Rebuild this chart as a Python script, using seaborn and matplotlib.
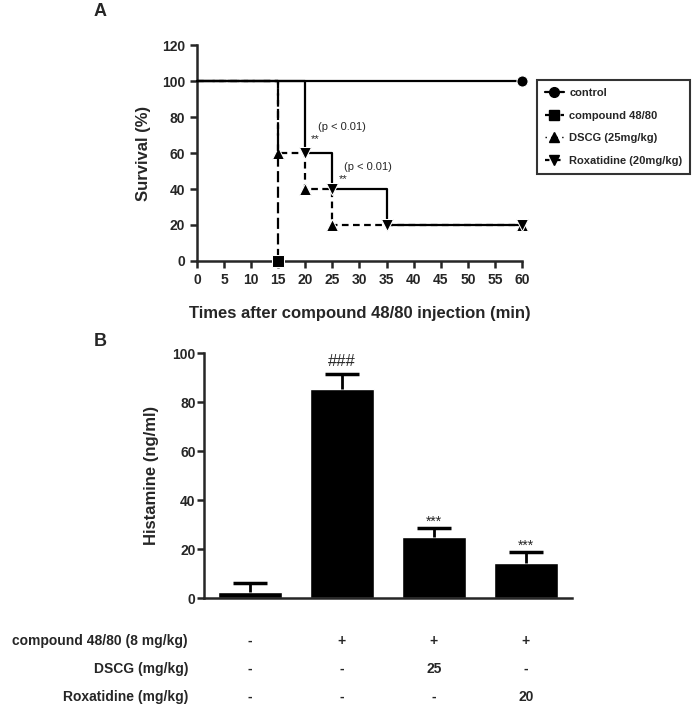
import numpy as np
import pandas as pd
import matplotlib
matplotlib.use('Agg')
import matplotlib.pyplot as plt
import matplotlib.transforms as mtransforms
from matplotlib.lines import Line2D
import seaborn as sns

# survival data (panel A)
time_control = [0, 60]
surv_control = [100, 100]
time_c4880 = [0, 15]
surv_c4880 = [100, 0]
time_dscg = [0, 15, 20, 25, 60]
surv_dscg = [100, 60, 40, 20, 20]
time_rox = [0, 20, 25, 35, 60]
surv_rox = [100, 60, 40, 20, 20]

# histamine data (panel B)
groups = ['control', '48/80', '48/80+DSCG', '48/80+Roxatidine']
hist_mean = [2.6, 85.5, 25, 14.2]
hist_err = [3.4, 6.0, 3.6, 4.6]

table_rows = ['compound 48/80 (8 mg/kg)', 'DSCG (mg/kg)', 'Roxatidine (mg/kg)']
table_vals = [['-', '+', '+', '+'],
              ['-', '-', '25', '-'],
              ['-', '-', '-', '20']]

sns.set_style('ticks')
plt.rcParams['font.family'] = ['Liberation Sans', 'DejaVu Sans']
plt.rcParams['axes.linewidth'] = 1.8

fig = plt.figure(figsize=(7, 7.1), dpi=100)

# ---------------- Panel A ----------------
axA = fig.add_axes([0.2814, 0.6324, 0.4643, 0.3042])
lw = 1.6
sns.lineplot(x=time_control, y=surv_control, ax=axA, color='black', lw=lw,
             marker='o', markersize=8, markevery=[1], estimator=None,
             clip_on=False, zorder=5)
sns.lineplot(x=time_c4880, y=surv_c4880, ax=axA, color='black', lw=lw,
             drawstyle='steps-post', linestyle=(0, (5, 2)),
             marker='s', markersize=8, markevery=[1], estimator=None,
             clip_on=False, zorder=4)
sns.lineplot(x=time_dscg, y=surv_dscg, ax=axA, color='black', lw=lw,
             drawstyle='steps-post', linestyle=(0, (3, 2)),
             marker='^', markersize=8, markevery=[1, 2, 3, 4], estimator=None,
             clip_on=False, zorder=3)
sns.lineplot(x=time_rox, y=surv_rox, ax=axA, color='black', lw=lw,
             drawstyle='steps-post', linestyle='-',
             marker='v', markersize=8, markevery=[1, 2, 3, 4], estimator=None,
             clip_on=False, zorder=3)

axA.set_xlim(0, 60)
axA.set_ylim(0, 120)
axA.set_xticks(range(0, 61, 5))
axA.set_yticks(range(0, 121, 20))
sns.despine(ax=axA)
axA.tick_params(width=1.8, length=5, labelsize=10)
for t in axA.get_xticklabels() + axA.get_yticklabels():
    t.set_fontweight('bold')
axA.set_xlabel('Times after compound 48/80 injection (min)', fontsize=12,
               fontweight='bold', labelpad=14)
axA.set_ylabel('Survival (%)', fontsize=12, fontweight='bold', labelpad=8)

axA.text(21.8, 68, '**', fontsize=8, ha='center', va='center')
axA.text(26.8, 74.5, '(p < 0.01)', fontsize=8, ha='center', va='center')
axA.text(27, 45.5, '**', fontsize=8, ha='center', va='center')
axA.text(31.6, 52, '(p < 0.01)', fontsize=8, ha='center', va='center')

handles = [
    Line2D([], [], color='black', lw=lw, marker='o', markersize=7),
    Line2D([], [], color='black', lw=lw, linestyle=(0, (3, 4)), marker='s', markersize=7),
    Line2D([], [], color='black', lw=1, linestyle=(0, (1, 3)), marker='^', markersize=7),
    Line2D([], [], color='black', lw=lw, linestyle=(0, (2, 3)), marker='v', markersize=7),
]
labels = ['control', 'compound 48/80', 'DSCG (25mg/kg)', 'Roxatidine (20mg/kg)']
leg = axA.legend(handles, labels, loc='upper left',
                 bbox_to_anchor=(537 / 700, 1 - 80 / 710),
                 bbox_transform=fig.transFigure, frameon=True, fancybox=False,
                 prop={'weight': 'bold', 'size': 8}, handlelength=1.7,
                 borderpad=0.7, labelspacing=1.15, handletextpad=0.5,
                 borderaxespad=0)
leg.get_frame().set_edgecolor('black')
leg.get_frame().set_linewidth(1.5)

fig.text(100 / 700, 1 - 12 / 710, 'A', fontsize=13, fontweight='bold',
         ha='center', va='center')

# ---------------- Panel B ----------------
axB = fig.add_axes([0.2914, 0.1577, 0.5257, 0.3451])
sns.barplot(x=groups, y=hist_mean, ax=axB, color='black', width=0.7,
            errorbar=None, saturation=1)
eb = axB.errorbar(range(len(groups)), hist_mean,
                  yerr=[np.zeros(len(groups)), hist_err], fmt='none',
                  ecolor='black', elinewidth=2, capsize=12, capthick=2.5)
# keep only the upper caps
for cl in eb[1]:
    if np.allclose(cl.get_ydata(), hist_mean):
        cl.set_visible(False)
axB.set_xlim(-0.5, 3.5)
axB.set_ylim(0, 100)
axB.set_yticks(range(0, 101, 20))
axB.set_xticks([])
sns.despine(ax=axB)
axB.tick_params(axis='y', width=1.8, length=5, labelsize=10, pad=1)
for t in axB.get_yticklabels():
    t.set_fontweight('bold')
axB.set_ylabel('Histamine (ng/ml)', fontsize=12, fontweight='bold', labelpad=10)

axB.text(1, 96.5, '###', fontsize=12, ha='center', va='center')
axB.text(2, 31, '***', fontsize=10, ha='center', va='center')
axB.text(3, 21.2, '***', fontsize=10, ha='center', va='center')

fig.text(100 / 700, 1 - 342 / 710, 'B', fontsize=13, fontweight='bold',
         ha='center', va='center')

# treatment table under panel B
trans = mtransforms.blended_transform_factory(axB.transData, fig.transFigure)
row_y = [1 - 641 / 710, 1 - 669 / 710, 1 - 697 / 710]
for name, vals, yy in zip(table_rows, table_vals, row_y):
    fig.text(188 / 700, yy, name, fontsize=10, fontweight='bold',
             ha='right', va='center')
    for i, v in enumerate(vals):
        axB.text(i, yy, v, transform=trans, fontsize=10, fontweight='bold',
                 ha='center', va='center')

fig.savefig('out.png', dpi=100)
